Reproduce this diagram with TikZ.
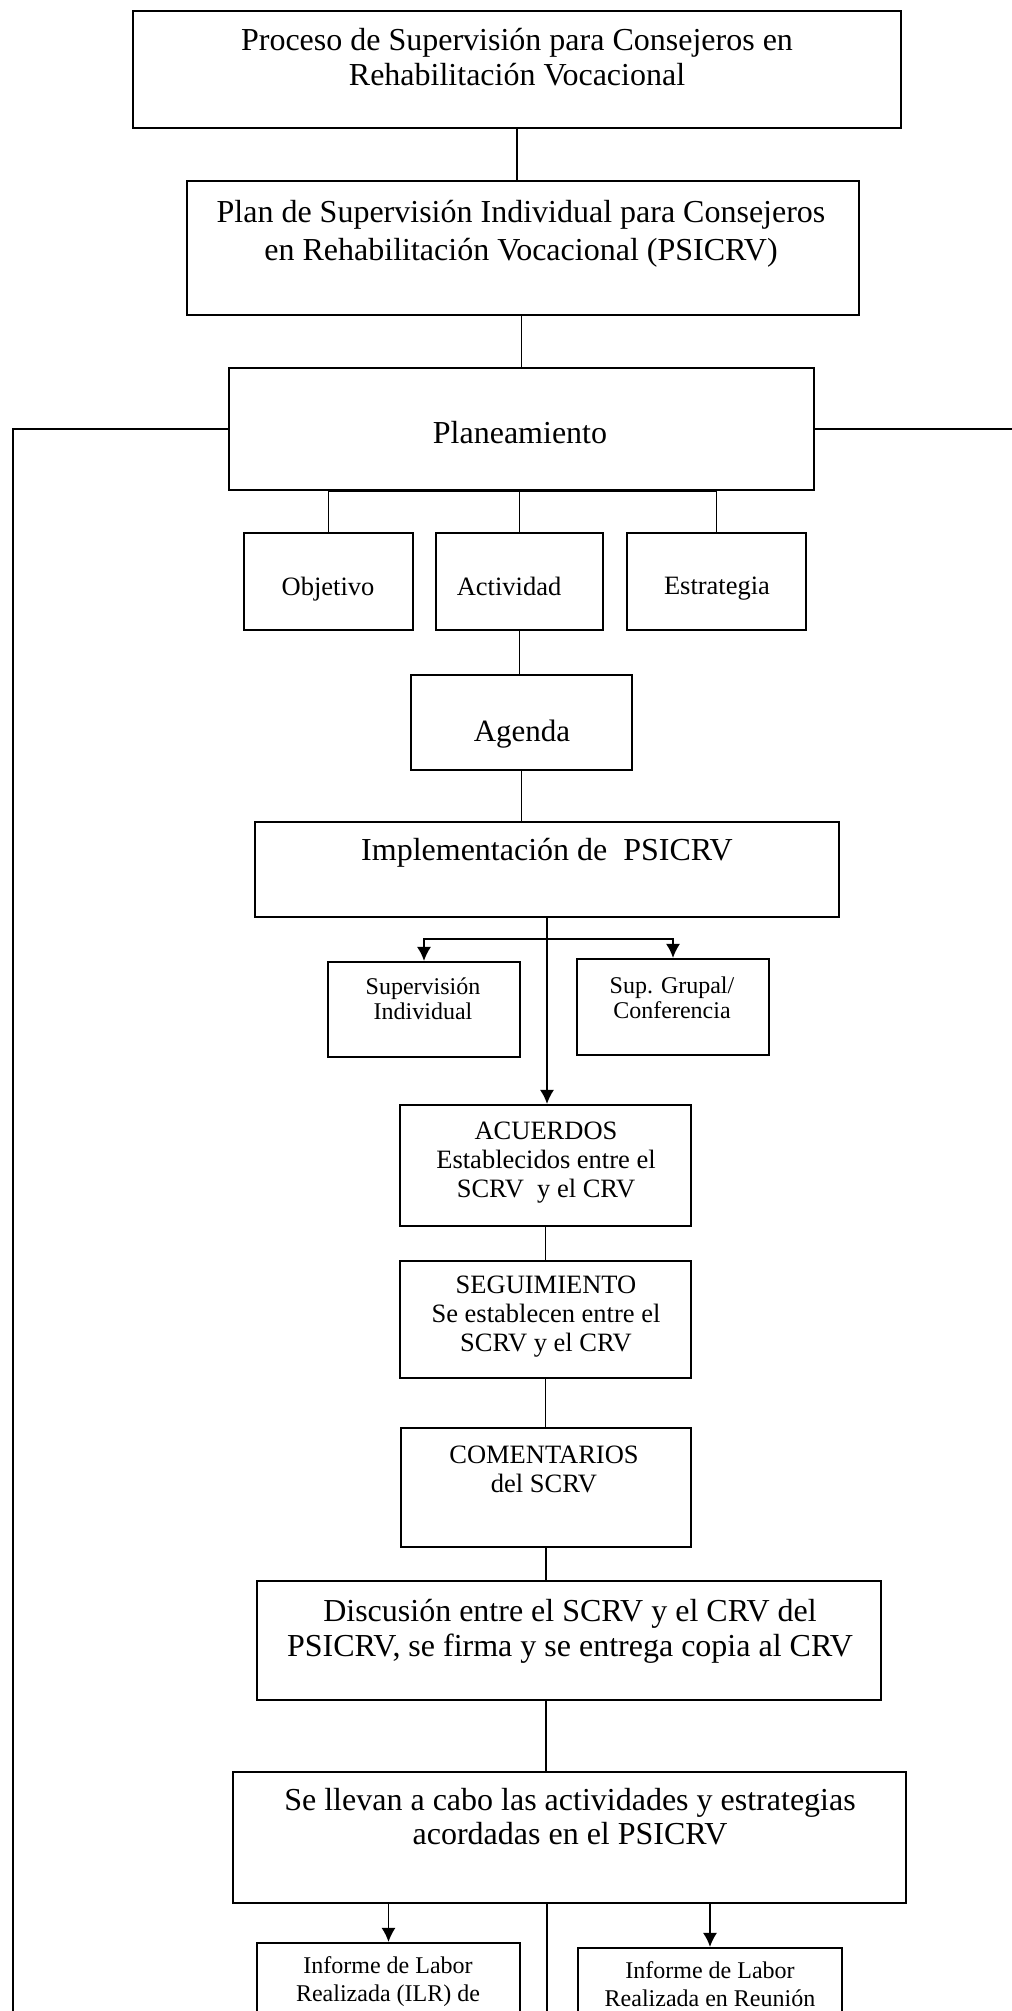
\documentclass[tikz,border=0pt]{standalone}
\usepackage{fontspec}
\setmainfont{Liberation Serif}
\usetikzlibrary{fit,arrows.meta}
\begin{document}
\begin{tikzpicture}[x=0.5pt,y=-0.5pt,
  box/.style={draw, line width=1.1pt, inner sep=0pt, fit={#1}},
  conn/.style={line width=0.75pt},
  arr/.style={conn, -{Latex[length=7pt,width=7pt]}},
  txt/.style={anchor=north, inner sep=0pt, align=center},
  fbig/.style={font=\fontsize{16pt}{19.5pt}\selectfont},
  fmid/.style={font=\fontsize{13.25pt}{14.5pt}\selectfont},
  fsmall/.style={font=\fontsize{12pt}{12.5pt}\selectfont},
]
\useasboundingbox (0,0) rectangle (1011,2011);

% boxes
\node (b1) [box={(133,11) (901,128)}] {};
\node (b2) [box={(187,181) (859,315)}] {};
\node (plan) [box={(229,368) (814,490)}] {};
\node (obj) [box={(244,533) (413,630)}] {};
\node (act) [box={(436,533) (603,630)}] {};
\node (est) [box={(627,533) (806,630)}] {};
\node (age) [box={(411,675) (632,770)}] {};
\node (imp) [box={(255,822) (839,917)}] {};
\node (sind) [box={(328,962) (520,1057)}] {};
\node (sgr) [box={(577,959) (769,1055)}] {};
\node (acu) [box={(400,1105) (691,1226)}] {};
\node (seg) [box={(400,1261) (691,1378)}] {};
\node (com) [box={(401,1428) (691,1547)}] {};
\node (dis) [box={(257,1581) (881,1700)}] {};
\node (sll) [box={(233,1772) (906,1903)}] {};
\node (ilr) [box={(257,1943) (520,2060)}] {};
\node (reu) [box={(578,1948) (842,2060)}] {};

% texts
\node (t1) [txt, font=\fontsize{16pt}{17.5pt}\selectfont] at (517,28) {Proceso de Supervisión para Consejeros en\\Rehabilitación Vocacional};
\node (t2) [txt, font=\fontsize{16pt}{19pt}\selectfont] at (521,200) {Plan de Supervisión Individual para Consejeros\\en Rehabilitación Vocacional (PSICRV)};
\node (t3) [txt, fbig] at (520,421) {Planeamiento};
\node (t4) [txt, fmid] at (328,577) {Objetivo};
\node (t5) [txt, fmid] at (509,577) {Actividad};
\node (t6) [txt, fmid] at (717,577) {Estrategia};
\node (t7) [txt, font=\fontsize{15.5pt}{18pt}\selectfont] at (522,720) {Agenda};
\node (t8) [txt, fbig] at (547,838) {Implementación de\ \ PSICRV};
\node (t9) [txt, fsmall] at (423,977) {Supervisión\\Individual};
\node (t10) [txt, fsmall] at (672,976) {Sup. Grupal/\\Conferencia};
\node (t11) [txt, fmid] at (546,1122) {ACUERDOS\\Establecidos entre el\\SCRV\ \ y el CRV};
\node (t12) [txt, fmid] at (546,1276) {SEGUIMIENTO\\Se establecen entre el\\SCRV y el CRV};
\node (t13) [txt, fmid] at (544,1446) {COMENTARIOS\\del SCRV};
\node (t14) [txt, font=\fontsize{16pt}{17.5pt}\selectfont] at (570,1599) {Discusión entre el SCRV y el CRV del\\PSICRV, se firma y se entrega copia al CRV};
\node (t15) [txt, font=\fontsize{16pt}{17pt}\selectfont] at (570,1788) {Se llevan a cabo las actividades y estrategias\\acordadas en el PSICRV};
\node (t16) [txt, font=\fontsize{12pt}{14pt}\selectfont] at (388,1956) {Informe de Labor\\Realizada (ILR) de};
\node (t17) [txt, font=\fontsize{12pt}{14pt}\selectfont] at (710,1961) {Informe de Labor\\Realizada en Reunión};

% free ends
\coordinate (lbot) at (13,2040);
\coordinate (rend) at (1020,429);
\coordinate (br) at (547,939);
\coordinate (cbot) at (547,2040);

% connectors
\draw[conn] (b1.south) -- (b1.south |- b2.north);
\draw[conn] (plan.north) -- (plan.north |- b2.south);
\draw[conn] (plan.west) -| (lbot);
\draw[conn] (plan.east) -- (rend);
\draw[conn] (obj.north) -- (obj.north |- plan.south) -- (est.north |- plan.south) -- (est.north);
\draw[conn] (act.north) -- (act.north |- plan.south);
\draw[conn] (act.south) -- (act.south |- age.north);
\draw[conn] (age.south) -- (age.south |- imp.north);
\draw[conn] (imp.south) -- (br);
\draw[arr] (br) -| (sind.north);
\draw[arr] (br) -| (sgr.north);
\draw[arr] (imp.south) -- (imp.south |- acu.north);
\draw[conn] (acu.south) -- (acu.south |- seg.north);
\draw[conn] (seg.south) -- (seg.south |- com.north);
\draw[conn] (com.south) -- (com.south |- dis.north);
\draw[conn] (com.south |- dis.south) -- (com.south |- sll.north);
\draw[conn] (sll.south -| cbot) -- (cbot);
\draw[arr] (sll.south -| ilr.north) -- (ilr.north);
\draw[arr] (sll.south -| reu.north) -- (reu.north);
\end{tikzpicture}
\end{document}
